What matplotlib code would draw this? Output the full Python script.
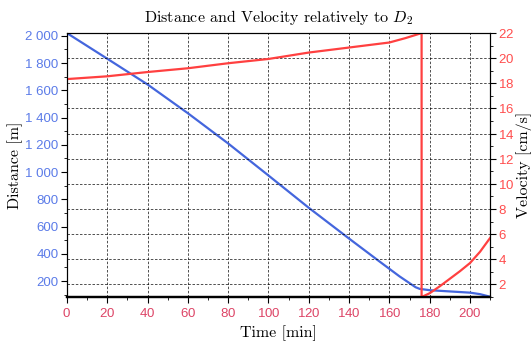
import numpy as np
import matplotlib
matplotlib.use("Agg")
from matplotlib import pyplot as plt
from matplotlib.ticker import FuncFormatter, MultipleLocator

# values
time_d = [0, 20, 40, 60, 80, 100, 120, 140, 155, 160, 165, 170, 173, 175, 178, 180, 190, 200, 205, 210]
distance = [2020, 1832, 1643, 1432, 1210, 975, 738, 512, 345, 290, 235, 185, 155, 143, 137, 133, 124, 115, 104, 85]

time_v = [0, 20, 40, 60, 80, 100, 120, 140, 160, 168, 172, 176, 176, 180, 185, 190, 195, 200, 205, 210]
velocity = [18.34, 18.56, 18.9, 19.2, 19.6, 19.94, 20.45, 20.85, 21.25, 21.6, 21.8, 22.0,
            1.0, 1.3, 1.85, 2.45, 3.05, 3.7, 4.6, 5.7]

blue = '#4466dd'
blue_txt = '#5b7be8'
red = '#ff4040'
red_txt = '#ff4d4d'
x_txt = '#dd4466'
serif = 'cmr10'

plt.rcParams['font.family'] = 'Liberation Sans'
plt.rcParams['mathtext.fontset'] = 'cm'
plt.rcParams['axes.formatter.use_mathtext'] = True

fig = plt.figure(figsize=(5.31, 3.41), dpi=100)
ax = fig.add_axes([0.126, 0.129, 0.797, 0.774])
ax2 = ax.twinx()

ax.plot(time_d, distance, color=blue, lw=1.6)
ax2.plot(time_v, velocity, color=red, lw=1.6)

ax.set_xlim(0, 210)
ax.set_ylim(83, 2020)
ax2.set_ylim(1, 22)

ax.xaxis.set_major_locator(MultipleLocator(20))
ax.xaxis.set_minor_locator(MultipleLocator(10))
ax.yaxis.set_major_locator(MultipleLocator(200))
ax.yaxis.set_minor_locator(MultipleLocator(100))
ax2.yaxis.set_major_locator(MultipleLocator(2))
ax2.yaxis.set_minor_locator(MultipleLocator(1))
ax.yaxis.set_major_formatter(FuncFormatter(lambda v, p: f"{v:,.0f}".replace(',', ' ')))

ax.tick_params(axis='x', labelcolor=x_txt, labelsize=9.5, length=4, pad=3)
ax.tick_params(axis='x', which='minor', length=2.5)
ax.tick_params(axis='y', labelcolor=blue_txt, labelsize=9.5, length=4, pad=2)
ax.tick_params(axis='y', which='minor', length=2.5)
ax2.tick_params(axis='y', labelcolor=red_txt, labelsize=9.5, length=4, pad=2)
ax2.tick_params(axis='y', which='minor', length=2.5)

ax.grid(True, axis='x', color='k', ls=(0, (3, 2)), lw=0.6, alpha=0.8)
ax2.grid(True, axis='y', color='k', ls=(0, (3, 2)), lw=0.6, alpha=0.8)
ax.spines['bottom'].set_linewidth(1.6)
ax2.spines['bottom'].set_linewidth(1.6)

ax.set_xlabel('Time [min]', fontfamily=serif, fontsize=11.5, labelpad=4)
ax.set_ylabel('Distance [m]', fontfamily=serif, fontsize=11.5, labelpad=2)
ax2.set_ylabel('Velocity [cm/s]', fontfamily=serif, fontsize=11.5, labelpad=1)
ax.set_title('Distance and Velocity relatively to $D_2$', fontfamily=serif, fontsize=11.5, pad=8)

plt.savefig('out.png', dpi=100)
